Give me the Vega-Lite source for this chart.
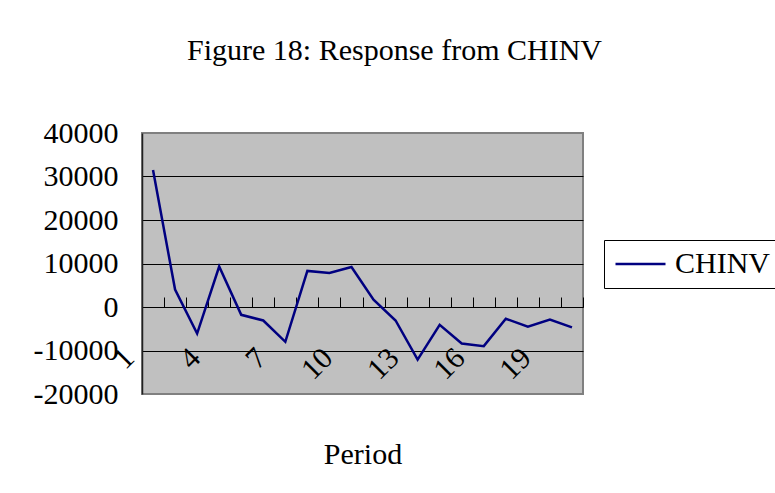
{
  "$schema": "https://vega.github.io/schema/vega-lite/v6.json",
  "width": 441,
  "height": 261,
  "autosize": {"type": "none"},
  "padding": {"left": 142, "top": 133, "right": 192, "bottom": 99},
  "background": "white",
  "title": {
    "text": "Figure 18: Response from CHINV",
    "font": "Liberation Serif",
    "fontSize": 30,
    "fontWeight": "normal",
    "color": "#000000",
    "anchor": "middle",
    "frame": "group",
    "baseline": "alphabetic",
    "dx": 32,
    "offset": 28
  },
  "data": {
    "values": [
      {"period": 1, "value": 31500, "series": "CHINV"},
      {"period": 2, "value": 4000, "series": "CHINV"},
      {"period": 3, "value": -6100, "series": "CHINV"},
      {"period": 4, "value": 9300, "series": "CHINV"},
      {"period": 5, "value": -1800, "series": "CHINV"},
      {"period": 6, "value": -3100, "series": "CHINV"},
      {"period": 7, "value": -8000, "series": "CHINV"},
      {"period": 8, "value": 8300, "series": "CHINV"},
      {"period": 9, "value": 7800, "series": "CHINV"},
      {"period": 10, "value": 9200, "series": "CHINV"},
      {"period": 11, "value": 1700, "series": "CHINV"},
      {"period": 12, "value": -3100, "series": "CHINV"},
      {"period": 13, "value": -12100, "series": "CHINV"},
      {"period": 14, "value": -4100, "series": "CHINV"},
      {"period": 15, "value": -8400, "series": "CHINV"},
      {"period": 16, "value": -9000, "series": "CHINV"},
      {"period": 17, "value": -2700, "series": "CHINV"},
      {"period": 18, "value": -4500, "series": "CHINV"},
      {"period": 19, "value": -2900, "series": "CHINV"},
      {"period": 20, "value": -4700, "series": "CHINV"}
    ]
  },
  "mark": {"type": "line", "strokeWidth": 2.5, "interpolate": "linear"},
  "encoding": {
    "x": {
      "field": "period",
      "type": "ordinal",
      "scale": {"paddingInner": 0, "paddingOuter": 0},
      "axis": {
        "title": "Period",
        "titleFont": "Liberation Serif",
        "titleFontSize": 30,
        "titleFontWeight": "normal",
        "titleColor": "#000000",
        "titleBaseline": "alphabetic",
        "titleY": 156,
        "offset": -87,
        "domainColor": "#000000",
        "domainWidth": 1,
        "ticks": true,
        "tickBand": "extent",
        "tickSize": -10,
        "tickColor": "#000000",
        "tickWidth": 1,
        "grid": false,
        "labelAngle": -45,
        "labelAlign": "right",
        "labelBaseline": "middle",
        "labelPadding": 56,
        "labelOffset": -24,
        "labelOverlap": false,
        "labelFont": "Liberation Serif",
        "labelFontSize": 30,
        "labelColor": "#000000",
        "labelExpr": "(datum.value - 1) % 3 == 0 ? datum.label : ''"
      }
    },
    "y": {
      "field": "value",
      "type": "quantitative",
      "scale": {"domain": [-20000, 40000], "nice": false, "zero": false},
      "axis": {
        "title": null,
        "values": [-20000, -10000, 0, 10000, 20000, 30000, 40000],
        "labelExpr": "'' + datum.value",
        "ticks": false,
        "domain": true,
        "domainColor": "#202020",
        "domainWidth": 1.5,
        "grid": true,
        "gridColor": {"condition": {"test": "datum.value === 40000 || datum.value === -20000", "value": "#808080"}, "value": "#000000"},
        "gridWidth": 1,
        "gridOpacity": 1,
        "labelPadding": 24,
        "labelFont": "Liberation Serif",
        "labelFontSize": 30,
        "labelColor": "#000000"
      }
    },
    "color": {
      "field": "series",
      "type": "nominal",
      "scale": {"range": ["#000080"]},
      "legend": {
        "title": null,
        "orient": "none",
        "legendX": 462,
        "legendY": 107,
        "strokeColor": "#000000",
        "padding": 9,
        "symbolType": "M-1,0H3",
        "symbolSize": 625,
        "symbolStrokeWidth": 2.5,
        "symbolFillColor": "transparent",
        "labelFont": "Liberation Serif",
        "labelFontSize": 30,
        "labelColor": "#000000",
        "labelOffset": 32,
        "labelLimit": 300
      }
    }
  },
  "config": {
    "view": {"fill": "#c0c0c0", "stroke": "#808080", "strokeWidth": 2}
  }
}
